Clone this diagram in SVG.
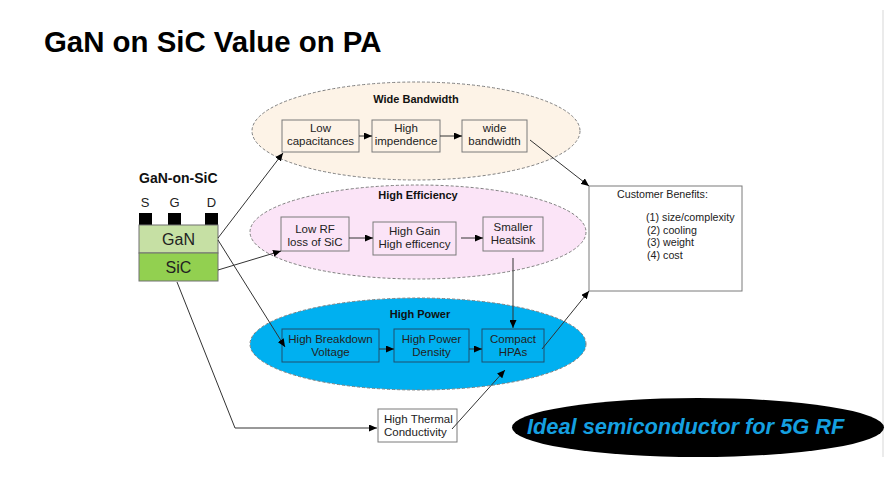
<svg xmlns="http://www.w3.org/2000/svg" width="886" height="482" viewBox="0 0 886 482">
<style>
text{font-family:"Liberation Sans",Arial,sans-serif;fill:#222}
.title{font-size:29.4px;font-weight:bold;fill:#000}
.lbl{font-size:11px;font-weight:bold;text-anchor:middle;fill:#111}
.bt{font-size:11.5px;text-anchor:middle}
.box{fill:none;stroke:#7a7a7a;stroke-width:1}
.boxb{fill:none;stroke:#1f4f6e;stroke-width:1}
.ell{stroke:#7f7f7f;stroke-width:1;stroke-dasharray:3 2}
.con{fill:none;stroke:#333;stroke-width:1;marker-end:url(#ah)}
.cb{font-size:10.7px}
</style>
<defs>
<marker id="ah" markerUnits="userSpaceOnUse" markerWidth="9" markerHeight="7" refX="8" refY="3.5" orient="auto">
<path d="M0,0 L8,3.5 L0,7 z" fill="#000"/>
</marker>
</defs>
<rect width="886" height="482" fill="#fff"/>
<line x1="883" y1="10" x2="883" y2="457" stroke="#e4e4e4" stroke-width="1.5"/>
<text class="title" x="44" y="52">GaN on SiC Value on PA</text>

<g id="wide-bandwidth">
<ellipse class="ell" cx="416" cy="131" rx="164" ry="49" fill="#fdf3e7"/>
<text class="lbl" x="416" y="103">Wide Bandwidth</text>
</g>
<g id="high-efficiency">
<ellipse class="ell" cx="418" cy="232" rx="168" ry="47" fill="#fbe4f7"/>
<text class="lbl" x="418" y="199">High Efficiency</text>
</g>
<g id="high-power">
<ellipse class="ell" cx="418" cy="344" rx="168" ry="46" fill="#00b0f0" stroke="#3a3a3a"/>
<text class="lbl" x="420" y="318">High Power</text>
</g>

<g id="low-capacitances">
<rect class="box" x="282" y="120" width="77" height="32"/>
<text class="bt" x="320.5" y="132">Low</text>
<text class="bt" x="320.5" y="145">capacitances</text>
</g>
<g id="high-impendence">
<rect class="box" x="372" y="120" width="68" height="32"/>
<text class="bt" x="406" y="132">High</text>
<text class="bt" x="406" y="145">impendence</text>
</g>
<g id="wide-bandwidth-box">
<rect class="box" x="462" y="120" width="65" height="32"/>
<text class="bt" x="494.5" y="132">wide</text>
<text class="bt" x="494.5" y="145">bandwidth</text>
</g>

<g id="low-rf-loss">
<rect class="box" x="281" y="217" width="68" height="34"/>
<text class="bt" x="315" y="233">Low RF</text>
<text class="bt" x="315" y="246">loss of SiC</text>
</g>
<g id="high-gain">
<rect class="box" x="373" y="222" width="83" height="33"/>
<text class="bt" x="414.5" y="235">High Gain</text>
<text class="bt" x="414.5" y="248">High efficency</text>
</g>
<g id="smaller-heatsink">
<rect class="box" x="483" y="217" width="60" height="34"/>
<text class="bt" x="513" y="231">Smaller</text>
<text class="bt" x="513" y="244">Heatsink</text>
</g>

<g id="high-breakdown">
<rect class="boxb" x="282" y="329" width="97" height="33"/>
<text class="bt" x="330.5" y="343">High Breakdown</text>
<text class="bt" x="330.5" y="356">Voltage</text>
</g>
<g id="high-power-density">
<rect class="boxb" x="394" y="329" width="75" height="33"/>
<text class="bt" x="431.5" y="343">High Power</text>
<text class="bt" x="431.5" y="356">Density</text>
</g>
<g id="compact-hpas">
<rect class="boxb" x="482" y="329" width="62" height="33"/>
<text class="bt" x="513" y="343">Compact</text>
<text class="bt" x="513" y="356">HPAs</text>
</g>

<g id="high-thermal">
<rect x="378" y="409" width="79" height="33" fill="#fff" stroke="#7a7a7a"/>
<text x="384" y="423" style="font-size:11.5px">High Thermal</text>
<text x="384" y="436" style="font-size:11.5px">Conductivity</text>
</g>

<g id="gan-on-sic">
<text x="139" y="183" style="font-size:14px;font-weight:bold;fill:#111">GaN-on-SiC</text>
<text x="145" y="207" style="font-size:13px;text-anchor:middle">S</text>
<text x="174.5" y="207" style="font-size:13px;text-anchor:middle">G</text>
<text x="211.5" y="207" style="font-size:13px;text-anchor:middle">D</text>
<rect x="139" y="213" width="13" height="12" fill="#000"/>
<rect x="168" y="213" width="13" height="12" fill="#000"/>
<rect x="205" y="213" width="13" height="12" fill="#000"/>
<rect x="139" y="225" width="79" height="28" fill="#c6e0a4" stroke="#707070"/>
<rect x="139" y="253" width="79" height="28" fill="#92d050" stroke="#707070"/>
<text x="178.5" y="245" style="font-size:16px;text-anchor:middle">GaN</text>
<text x="178.5" y="273" style="font-size:16px;text-anchor:middle">SiC</text>
</g>

<g id="customer-benefits">
<rect x="589" y="186" width="153" height="105" fill="#fff" stroke="#7a7a7a"/>
<text class="cb" x="617" y="198">Customer Benefits:</text>
<text class="cb" x="646" y="221">(1) size/complexity</text>
<text class="cb" x="647" y="233.5">(2) cooling</text>
<text class="cb" x="647" y="246">(3) weight</text>
<text class="cb" x="647" y="258.5">(4) cost</text>
</g>

<g id="ideal">
<ellipse cx="698" cy="427.5" rx="186" ry="29.5" fill="#000"/>
<text x="527" y="434" style="font-size:21.8px;font-weight:bold;font-style:italic;fill:#15a0e0">Ideal semiconductor for 5G RF</text>
</g>

<g id="connectors">
<line class="con" x1="218" y1="238" x2="283" y2="153"/>
<line class="con" x1="218" y1="240" x2="285" y2="347"/>
<line class="con" x1="218" y1="270" x2="281" y2="251"/>
<polyline class="con" points="177,282 235,428 377,428"/>
<line class="con" x1="359" y1="136" x2="372" y2="136"/>
<line class="con" x1="440" y1="136" x2="462" y2="136"/>
<line class="con" x1="530" y1="140" x2="589" y2="186"/>
<line class="con" x1="349" y1="238" x2="373" y2="238"/>
<line class="con" x1="461" y1="238" x2="483" y2="238"/>
<line class="con" x1="513" y1="258" x2="513" y2="328"/>
<line class="con" x1="379" y1="349" x2="394" y2="349"/>
<line class="con" x1="469" y1="349" x2="482" y2="349"/>
<line class="con" x1="542" y1="349" x2="589" y2="291"/>
<line class="con" x1="452" y1="429" x2="505" y2="370"/>
</g>
</svg>
